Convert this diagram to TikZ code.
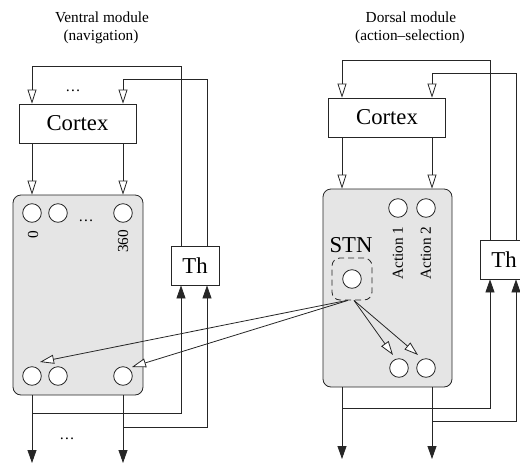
\documentclass[tikz,border=0pt]{standalone}
\usepackage{fontspec}
\setmainfont{Liberation Serif}
\usetikzlibrary{arrows.meta,calc}
\newcommand{\smallfnt}{\fontsize{15.3}{18}\selectfont}
\newcommand{\bigfnt}{\fontsize{22.7}{26}\selectfont}
\begin{document}
\begin{tikzpicture}[x=1pt,y=-1pt,line width=0.8pt,draw=black!85,
  cortexbox/.style={draw,fill=white,minimum width=117pt,minimum height=39pt,inner sep=0pt,font=\bigfnt},
  thbox/.style={draw,fill=white,minimum width=48pt,minimum height=39pt,inner sep=0pt,font=\bigfnt},
  graybox/.style={draw,fill=gray!20,rounded corners=8pt,inner sep=0pt},
  neuron/.style={draw,fill=white,circle,minimum size=18.6pt,inner sep=0pt},
  lbl/.style={font=\smallfnt,inner sep=0pt},
  oarr/.style={-{Triangle[open,fill=white,length=14pt,width=9pt]}},
  farr/.style={-{Triangle[length=13pt,width=9pt]}}]
\useasboundingbox (0,0) rectangle (520,464);

% ---------- titles
\node[lbl,anchor=base] (tL1) at (102,22) {Ventral module};
\node[lbl,anchor=base] (tL2) at (101,40) {(navigation)};
\node[lbl,anchor=base] (tR1) at (411,22) {Dorsal module};
\node[lbl,anchor=base] (tR2) at (410,40) {(action--selection)};

% ---------- level coordinates
\coordinate (yL1) at (0,66);
\coordinate (yL2) at (0,79);
\coordinate (yR1) at (0,60);
\coordinate (yR2) at (0,73);
\coordinate (bL1) at (0,413);
\coordinate (bL2) at (0,427);
\coordinate (bR1) at (0,408);
\coordinate (bR2) at (0,421);
\coordinate (eL) at (0,463);
\coordinate (eR) at (0,459);
\coordinate (cR1) at (342,0);
\coordinate (cR2) at (432,0);

% ---------- left module
\node[cortexbox] (cortexL) at (77.5,123.5) {Cortex};
\node[graybox,minimum width=130pt,minimum height=200pt] (grayL) at (78,295) {};
\node[thbox] (thL) at (195,265.5) {Th};
\node[neuron] (tl1) at (32,213) {};
\node[neuron] (tl2) at (58,213) {};
\node[neuron] (tl3) at (123,213) {};
\node[neuron] (bl1) at (32,376) {};
\node[neuron] (bl2) at (58,376) {};
\node[neuron] (bl3) at (123,376) {};
\node[lbl,rotate=90] (z0) at (33,235) {0};
\node[lbl,rotate=90] (z360) at (123,241.5) {360};
\node[lbl,anchor=base] (dL1) at (73,91) {\ldots};
\node[lbl,anchor=base] (dL2) at (86,221) {\ldots};
\node[lbl,anchor=base] (dL3) at (67,439) {\ldots};

\draw[oarr] ([xshift=-14pt]thL.north) |- (yL1 -| tl1) -- (cortexL.north -| tl1);
\draw[oarr] ([xshift=12pt]thL.north) |- (yL2 -| tl3) -- (cortexL.north -| tl3);
\draw[oarr] (cortexL.south -| tl1) -- (grayL.north -| tl1);
\draw[oarr] (cortexL.south -| tl3) -- (grayL.north -| tl3);
\draw[farr] (grayL.south -| tl1) -- (eL -| tl1);
\draw[farr] (grayL.south -| tl3) -- (eL -| tl3);
\draw[farr] (bL1 -| tl1) -| ([xshift=-14pt]thL.south);
\draw[farr] (bL2 -| tl3) -| ([xshift=12pt]thL.south);

% ---------- right module
\node[cortexbox] (cortexR) at (387,117.5) {Cortex};
\node[graybox,minimum width=129pt,minimum height=198pt] (grayR) at (387.5,288) {};
\node[thbox] (thR) at (504,259.5) {Th};
\node[neuron] (tr1) at (398,208) {};
\node[neuron] (tr2) at (426,208) {};
\node[neuron] (br1) at (399,368) {};
\node[neuron] (br2) at (426,368) {};
\node[lbl,rotate=90] (a1) at (398,253) {Action 1};
\node[lbl,rotate=90] (a2) at (426,253) {Action 2};
\node[font=\bigfnt,inner sep=0pt] (stnlbl) at (351,245) {STN};
\node[draw,dash pattern=on 6pt off 4pt,rounded corners=8pt,minimum width=40pt,minimum height=42pt,inner sep=0pt] (stn) at (352,279) {};
\node[neuron] (stnc) at (352,279) {};

\draw[oarr] ([xshift=-14pt]thR.north) |- (yR1 -| cR1) -- (cortexR.north -| cR1);
\draw[oarr] ([xshift=12pt]thR.north) |- (yR2 -| cR2) -- (cortexR.north -| cR2);
\draw[oarr] (cortexR.south -| cR1) -- (grayR.north -| cR1);
\draw[oarr] (cortexR.south -| cR2) -- (grayR.north -| cR2);
\draw[farr] (grayR.south -| cR1) -- (eR -| cR1);
\draw[farr] (grayR.south -| cR2) -- (eR -| cR2);
\draw[farr] (bR1 -| cR1) -| ([xshift=-14pt]thR.south);
\draw[farr] (bR2 -| cR2) -| ([xshift=12pt]thR.south);

% ---------- STN projections
\draw[oarr] ([xshift=-5pt]stn.south) -- ($(bl1.center)+(8,-14)$);
\draw[oarr] ([xshift=-4pt]stn.south) -- ($(bl3.center)+(9,-9)$);
\draw[oarr] ([xshift=2pt]stn.south) -- ($(br1.center)+(-6,-13)$);
\draw[oarr] ([xshift=2pt]stn.south) -- ($(br2.center)+(-8,-13)$);
\end{tikzpicture}
\end{document}
